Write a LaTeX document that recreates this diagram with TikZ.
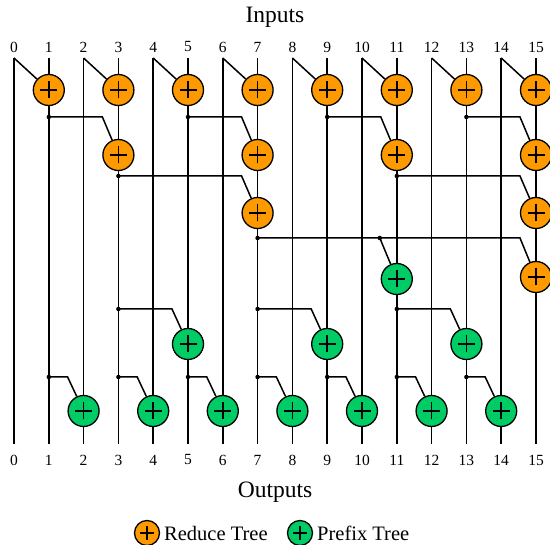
\documentclass[tikz,border=0pt]{standalone}
\usepackage{fontspec}
\setmainfont{Liberation Serif}
\usetikzlibrary{backgrounds}
\definecolor{redC}{RGB}{255,153,0}
\definecolor{preC}{RGB}{0,204,102}
\begin{document}
\begin{tikzpicture}[x=1pt,y=-1pt,
  wire/.style={line width=1.5pt},
  opnode/.style={circle, draw=black, line width=1.3pt, minimum size=31pt, inner sep=0pt,
    path picture={\draw[line width=1.5pt]
      ([xshift=-#1]path picture bounding box.center) -- ([xshift=#1]path picture bounding box.center)
      ([yshift=-#1]path picture bounding box.center) -- ([yshift=#1]path picture bounding box.center);}},
  opnode/.default=8.5pt,
  reducenode/.style={opnode, fill=redC},
  prefixnode/.style={opnode, fill=preC},
  dotnode/.style={circle, fill=black, inner sep=0pt, minimum size=4.5pt},
  lbl/.style={font=\fontsize{15.5}{16}\selectfont, inner sep=0pt},
  title/.style={font=\fontsize{23.5}{24}\selectfont, inner sep=0pt},
  legtext/.style={font=\fontsize{20.5}{21}\selectfont, inner sep=0pt, anchor=west}]
\useasboundingbox (0,0) rectangle (550,545);

\node[title] (inputs) at (275,17) {Inputs};
\node[title] (outputs) at (275,492) {Outputs};

\foreach \i in {0,...,15} {
  \coordinate (t\i) at ({14+34.8*\i},58);
  \coordinate (b\i) at ({14+34.8*\i},444);
  \node[lbl] (tl\i) at ({14+34.8*\i},47) {\i};
  \node[lbl] (bl\i) at ({14+34.8*\i},460) {\i};
}

% reduce tree
\foreach \i in {1,3,...,15}
  \node[reducenode] (r1-\i) at ({14+34.8*\i},90) {};
\foreach \i in {3,7,11,15}
  \node[reducenode] (r2-\i) at ({14+34.8*\i},155) {};
\foreach \i in {7,15}
  \node[reducenode] (r3-\i) at ({14+34.8*\i},213) {};
\node[reducenode] (r4-15) at ({14+34.8*15},277) {};

% prefix tree
\node[prefixnode] (p4-11) at ({14+34.8*11},279) {};
\foreach \i in {5,9,13}
  \node[prefixnode] (p5-\i) at ({14+34.8*\i},344) {};
\foreach \i in {2,4,...,14}
  \node[prefixnode] (p6-\i) at ({14+34.8*\i},411) {};

\begin{scope}[on background layer]
  \foreach \i in {0,...,15}
    \draw[wire] (t\i) -- (b\i);
\end{scope}

% row 1
\foreach \i/\j in {1/0,3/2,5/4,7/6,9/8,11/10,13/12,15/14}
  \draw[wire] (t\j) -- (r1-\i);

% row 2
\foreach \i/\j in {3/1,7/5,11/9,15/13} {
  \node[dotnode] (d2-\j) at ({14+34.8*\j},117) {};
  \coordinate (k2-\i) at ({14+34.8*\i-16},117);
  \draw[wire] (d2-\j.center) -- (k2-\i) -- (r2-\i);
}

% row 3
\foreach \i/\j in {7/3,15/11} {
  \node[dotnode] (d3-\j) at ({14+34.8*\j},176) {};
  \coordinate (k3-\i) at ({14+34.8*\i-16},176);
  \draw[wire] (d3-\j.center) -- (k3-\i) -- (r3-\i);
}

% row 4
\node[dotnode] (d4-7) at ({14+34.8*7},238) {};
\node[dotnode] (d4-b) at ({14+34.8*11-17},238) {};
\coordinate (k4-15) at ({14+34.8*15-16},238);
\draw[wire] (d4-7.center) -- (d4-b.center) -- (k4-15) -- (r4-15);
\draw[wire] (d4-b.center) -- (p4-11);

% row 5
\foreach \i/\j in {5/3,9/7,13/11} {
  \node[dotnode] (d5-\j) at ({14+34.8*\j},309) {};
  \coordinate (k5-\i) at ({14+34.8*\i-16},309);
  \draw[wire] (d5-\j.center) -- (k5-\i) -- (p5-\i);
}

% row 6
\foreach \i/\j in {2/1,4/3,6/5,8/7,10/9,12/11,14/13} {
  \node[dotnode] (d6-\j) at ({14+34.8*\j},377) {};
  \coordinate (k6-\i) at ({14+34.8*\i-16},377);
  \draw[wire] (d6-\j.center) -- (k6-\i) -- (p6-\i);
}

% legend
\node[opnode=7pt, fill=redC, minimum size=25pt] (lg1) at (147,533) {};
\node[legtext] (lg1t) at (164,533) {Reduce Tree};
\node[opnode=7pt, fill=preC, minimum size=25pt] (lg2) at (300,533) {};
\node[legtext] (lg2t) at (317,533) {Prefix Tree};
\end{tikzpicture}
\end{document}
